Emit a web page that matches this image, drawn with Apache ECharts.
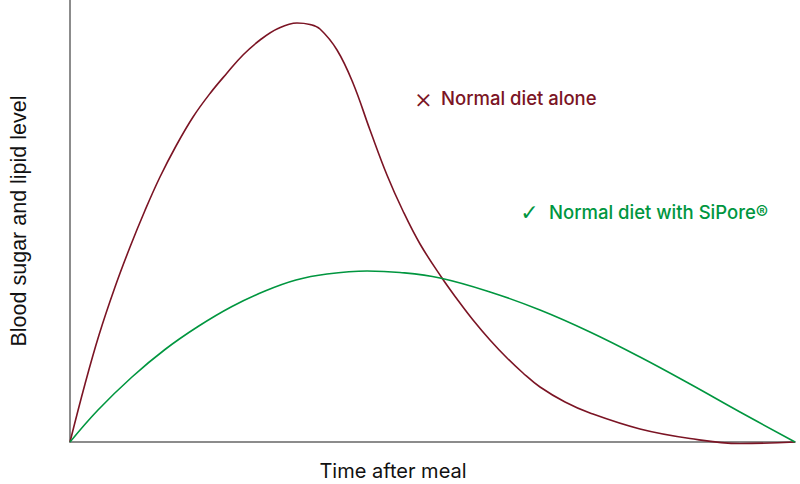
<!DOCTYPE html>
<html>
<head>
<meta charset="utf-8">
<style>
  html, body { margin: 0; padding: 0; background: #fff; }
  #chart { width: 800px; height: 484px; }
</style>
<script src="https://cdn.jsdelivr.net/npm/echarts@6/dist/echarts.min.js"></script>
</head>
<body>
<div id="chart"></div>
<script>
  // time after meal (relative units, 0..100) and level (relative, 0..100)
  var aloneX = [0, 2.07, 4, 6.21, 8.28, 10.34, 12.41, 14.62, 16.97, 19.31, 21.66, 23.86, 26.21, 28.69, 31.31, 33.1, 34.48, 36.83, 39.03, 41.38, 43.72, 45.93, 48.28, 51.31, 53.38, 55.59, 57.93, 60.28, 62.48, 64.83, 68.28, 71.72, 78.62, 85.52, 92.41, 100];
  var aloneY = [0, 13.12, 24.21, 35.07, 44.12, 52.38, 59.95, 66.97, 73.53, 78.85, 83.48, 87.56, 90.95, 93.55, 94.8, 94.46, 93.44, 88.69, 81.22, 70.59, 60.41, 52.26, 44.8, 37.1, 32.35, 27.6, 23.08, 19, 15.61, 12.44, 9.05, 6.56, 2.94, 0.79, -0.34, 0];

  var siporeX = [0, 3.86, 8.55, 13.1, 17.66, 22.34, 26.9, 31.17, 35.45, 40.97, 45.52, 51.03, 57.93, 64.83, 71.72, 78.62, 85.52, 92.41, 100];
  var siporeY = [0, 7.24, 14.71, 20.93, 26.13, 30.66, 34.16, 36.65, 38.01, 38.69, 38.35, 37.1, 33.94, 29.86, 24.89, 19.23, 13.12, 6.79, 0];

  var red = '#7b1424';
  var green = '#00963f';
  var axisGray = '#8c8c8c';

  function pairs(xs, ys) {
    return xs.map(function(x, i) { return [x, ys[i]]; });
  }

  var chart = echarts.init(document.getElementById('chart'), null, { renderer: 'svg' });
  chart.setOption({
    animation: false,
    grid: { left: 70, right: 5, top: 0, bottom: 42, outerBoundsMode: 'none', containLabel: false },
    xAxis: {
      type: 'value',
      min: 0,
      max: 100,
      axisLine: { show: true, lineStyle: { color: axisGray, width: 2 } },
      axisTick: { show: false },
      axisLabel: { show: false },
      splitLine: { show: false }
    },
    yAxis: {
      type: 'value',
      min: 0,
      max: 100,
      name: 'Blood sugar and lipid level',
      nameLocation: 'middle',
      nameGap: 40,
      nameTextStyle: { color: '#111', fontSize: 21.5, fontFamily: 'Liberation Sans' },
      axisLine: { show: true, lineStyle: { color: axisGray, width: 2 } },
      axisTick: { show: false },
      axisLabel: { show: false },
      splitLine: { show: false }
    },
    series: [
      {
        name: 'Normal diet alone',
        type: 'line',
        smooth: 0.4,
        clip: false,
        showSymbol: false,
        data: pairs(aloneX, aloneY),
        lineStyle: { color: red, width: 1.6 },
        itemStyle: { color: red }
      },
      {
        name: 'Normal diet with SiPore®',
        type: 'line',
        smooth: 0.4,
        clip: false,
        showSymbol: false,
        data: pairs(siporeX, siporeY),
        lineStyle: { color: green, width: 1.6 },
        itemStyle: { color: green }
      }
    ],
    graphic: [
      {
        type: 'text', x: 393, y: 471,
        style: { text: 'Time after meal', fill: '#111', font: '20px Inter', align: 'center', verticalAlign: 'middle' }
      },
      {
        type: 'text', x: 423.5, y: 98,
        style: { text: '\u00d7', fill: red, font: '300 28px Inter', align: 'center', verticalAlign: 'middle' }
      },
      {
        type: 'text', x: 441, y: 98,
        style: { text: 'Normal diet alone', fill: red, font: '500 18.5px Inter', verticalAlign: 'middle' }
      },
      {
        type: 'text', x: 529.5, y: 212,
        style: { text: '\u2713', fill: green, font: '22px "DejaVu Sans"', align: 'center', verticalAlign: 'middle' }
      },
      {
        type: 'text', x: 549, y: 212,
        style: { text: 'Normal diet with SiPore\u00ae', fill: green, font: '500 18.5px Inter', verticalAlign: 'middle' }
      }
    ]
  });
  window.addEventListener('resize', function() { chart.resize(); });
</script>
</body>
</html>
